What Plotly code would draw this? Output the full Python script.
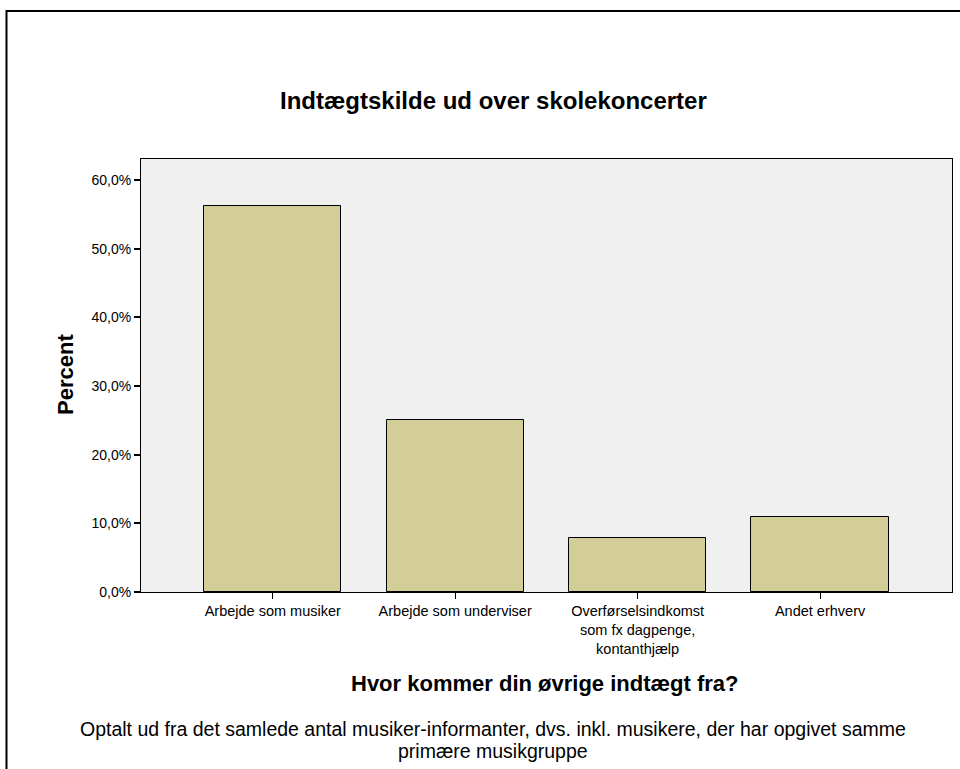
import plotly.graph_objects as go

categories = ["Arbejde som musiker", "Arbejde som underviser",
              "Overførselsindkomst<br>som fx dagpenge,<br>kontanthjælp", "Andet erhverv"]
percent = [56.25, 25.0, 7.81, 10.94]
y_tick_vals = [0, 10, 20, 30, 40, 50, 60]
y_tick_text = ["0,0%", "10,0%", "20,0%", "30,0%", "40,0%", "50,0%", "60,0%"]
footnote_lines = ["Optalt ud fra det samlede antal musiker-informanter, dvs. inkl. musikere, der har opgivet samme",
                  "primære musikgruppe"]

FONT = "Liberation Sans, Arial, sans-serif"

fig = go.Figure(go.Bar(
    x=categories, y=percent, width=0.752,
    marker=dict(color="#d3ce98", line=dict(color="black", width=1)),
    hoverinfo="skip",
))

W, H = 960, 769
L, R, T, B = 141, 8, 159, 177
pw, ph = W - L - R, H - T - B

def px(x):
    return (x - L) / pw

def py(y):
    return (H - B - y) / ph

annotations = [
    dict(text="<b>Indtægtskilde ud over skolekoncerter</b>", x=px(493), y=py(100),
         xref="paper", yref="paper", xanchor="center", yanchor="middle",
         showarrow=False, font=dict(size=24)),
    dict(text="<b>Percent</b>", x=px(65), y=py(375), xref="paper", yref="paper",
         xanchor="center", yanchor="middle",
         showarrow=False, textangle=-90, font=dict(size=22)),
    dict(text="<b>Hvor kommer din øvrige indtægt fra?</b>", x=px(545), y=py(683),
         xref="paper", yref="paper", xanchor="center", yanchor="middle",
         showarrow=False, font=dict(size=22)),
]
for line, yy in zip(footnote_lines, [729, 751]):
    annotations.append(dict(text=line, x=px(493), y=py(yy), xref="paper", yref="paper",
                            xanchor="center", yanchor="middle", showarrow=False,
                            font=dict(size=19.5)))

fig.update_layout(
    width=W, height=H,
    margin=dict(l=L, r=R, t=T, b=B, autoexpand=False),
    paper_bgcolor="white", plot_bgcolor="#f0f0f0",
    showlegend=False, bargap=0,
    font=dict(family=FONT, color="black"),
    xaxis=dict(range=[-0.722, 3.723], showgrid=False, ticks="outside", ticklen=6,
               tickcolor="black", tickwidth=1, showline=True, linecolor="black",
               linewidth=1, mirror=True, tickfont=dict(size=14.5, family=FONT),
               fixedrange=True),
    yaxis=dict(range=[0, 63.06], tickvals=y_tick_vals, ticktext=y_tick_text,
               showgrid=False, zeroline=False, ticks="outside", ticklen=6,
               tickcolor="black", tickwidth=2, showline=True, linecolor="black",
               linewidth=1, mirror=True, tickfont=dict(size=14, family=FONT),
               fixedrange=True),
    annotations=annotations,
    shapes=[
        dict(type="rect", xref="paper", yref="paper", x0=px(6.5), x1=px(975),
             y0=py(790), y1=py(11), line=dict(color="black", width=2),
             fillcolor="rgba(0,0,0,0)", layer="below"),
    ],
)

fig.write_html("out.html", config={"displayModeBar": False},
               post_script="document.body.style.margin='0';document.body.style.overflow='hidden';")
